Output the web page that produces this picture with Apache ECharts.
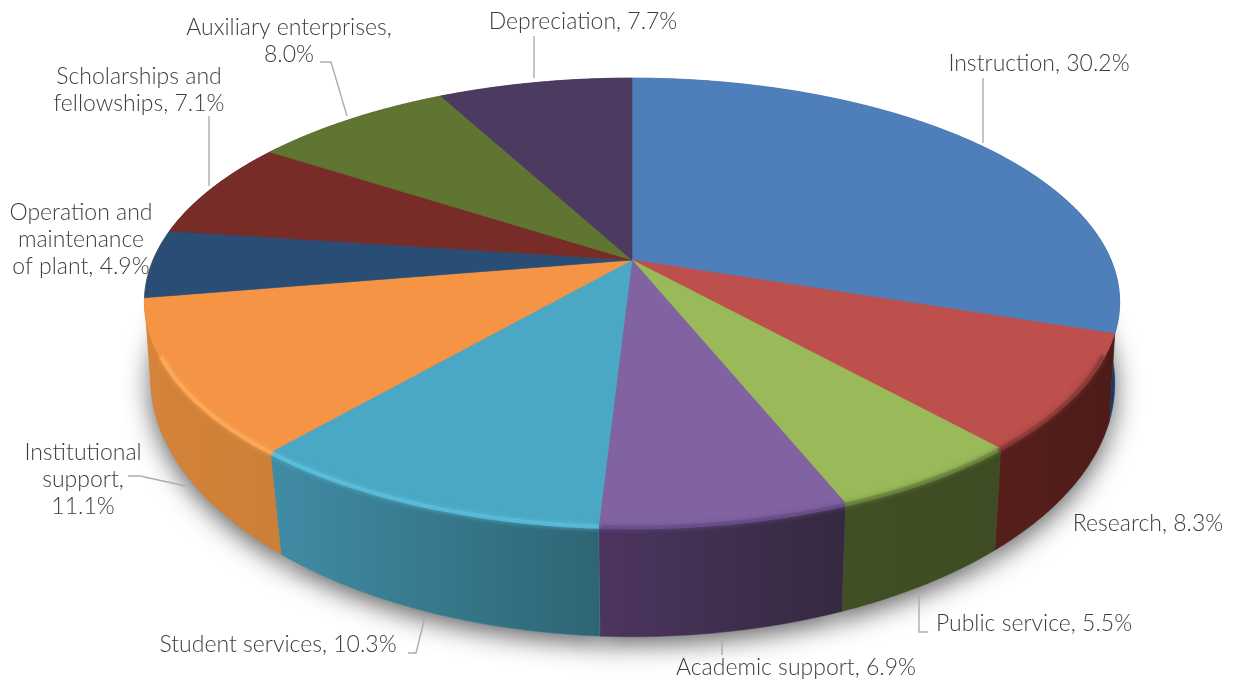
<!DOCTYPE html>
<html><head><meta charset="utf-8">
<style>html,body{margin:0;padding:0;background:#fff}#c{width:1234px;height:682px}</style>
<script src="https://cdn.jsdelivr.net/npm/echarts@6/dist/echarts.min.js"></script>
</head><body><div id="c"></div>
<script>
const categories = ['Instruction','Research','Public service','Academic support','Student services','Institutional support','Operation and maintenance of plant','Scholarships and fellowships','Auxiliary enterprises','Depreciation'];
const shares = [30.2,8.3,5.5,6.9,10.3,11.1,4.9,7.1,8.0,7.7];
const topColors = ['#4f7fbb','#bd4f4c','#9aba59','#8163a1','#4aa8c4','#f59445','#2a4d76','#772c28','#5f7531','#4c3a60'];
const wallLeft  = ['#2d5f98','#571f1c','#414f24','#4c3560','#408ca5','#d58439','#d58439','#4f1d1a','#3f4f23','#33273f'];
const wallRight = ['#143a66','#4c1c19','#3d4c22','#35293f','#2e6574','#cb7f37','#d58439','#4f1d1a','#3f4f23','#33273f'];
const rimColors = ['#3a689f','#8a3a37','#708a42','#6d5290','#5cc2e0','#fdab5e','#fdab5e','#772c28','#5f7531','#4c3a60'];
const labelLines = [
  ['Depreciation, 7.7%'],['Instruction, 30.2%'],['Auxiliary enterprises,','8.0%'],
  ['Scholarships and','fellowships, 7.1%'],['Operation and','maintenance','of plant, 4.9%'],
  ['Institutional','support,','11.1%'],['Student services, 10.3%'],['Academic support, 6.9%'],
  ['Public service, 5.5%'],['Research, 8.3%']
];
// label anchors: [centre x, first-line y]
const labelAt = [[583,22],[1039,64],[289,28],[139,77],[81,213],[83,453],[278,645],[796,668],[1034,624],[1148,524]];
const leaders = [
  [[534,36],[534,78]],[[983,78],[983,143]],[[320,62],[331,62],[347,116]],[[209,116],[209,186]],
  [[128,476],[140,476],[186,486]],[[408,653],[416,653],[425,617]],[[722,637],[722,655]],
  [[919,593],[919,632],[928,632]]
];
const FONT = 'Lato, "Open Sans", sans-serif', FS = 23, LH = 27;

// Perspective view of the disc
const CX=632, CY=260, A=479, B=216, K=0.1875;
const DROP_Y=79, SCALE_X=0.992, TAPER_L=0.028, TAPER_R=0.01, SCALE_Y=1.12;
function rimTop(t){const X=Math.sin(t),Y=-Math.cos(t),w=1-K*Y;return [CX+A*X/w,CY+B*Y/w];}
function rimBot(t){
  const p=rimTop(t),Y=Math.max(0,-Math.cos(t)),sx=SCALE_X-Y*(p[0]<CX?TAPER_L:TAPER_R);
  return [CX+(p[0]-CX)*sx,CY+DROP_Y+(p[1]-CY)*SCALE_Y];
}
const total = shares.reduce((a,b)=>a+b,0);
const starts=[];let acc=0;shares.forEach(v=>{starts.push(acc);acc+=v;});
function arc(i,fn,keep){
  const a0=starts[i]/total*2*Math.PI,a1=(starts[i]+shares[i])/total*2*Math.PI,n=Math.max(4,Math.ceil((a1-a0)/0.01)),o=[];
  for(let k=0;k<=n;k++){const t=a0+(a1-a0)*k/n;if(!keep||keep(t))o.push(fn(t));}
  return o;
}
const seriesData = shares.map((v,i)=>({name:categories[i],value:v}));
function poly(points,style){return {type:'polygon',shape:{points},style};}

const sh = {
  type:'custom',coordinateSystem:'none',silent:true,data:seriesData,z:1,
  renderItem(p){
    const pts=[[CX,CY+DROP_Y]].concat(arc(p.dataIndex,rimBot));
    return poly(pts,{fill:'#888',shadowBlur:26,shadowColor:'rgba(30,30,30,0.7)',shadowOffsetY:7});
  }
};
const walls = {
  type:'custom',coordinateSystem:'none',silent:true,data:seriesData,z:2,
  renderItem(p){
    const i=p.dataIndex,a=arc(i,rimTop),b=arc(i,rimBot).reverse(),pts=a.concat(b);
    return poly(pts,{
      fill:new echarts.graphic.LinearGradient(0,0,1,0,[{offset:0,color:wallLeft[i]},{offset:1,color:wallRight[i]}]),
      stroke:wallLeft[i],lineWidth:0.4});
  }
};
const tops = {
  type:'custom',coordinateSystem:'none',silent:true,data:seriesData,z:3,
  renderItem(p){
    const i=p.dataIndex,pts=[[CX,CY]].concat(arc(i,rimTop));
    return poly(pts,{fill:topColors[i],stroke:topColors[i],lineWidth:0.6});
  }
};
const rims = {
  type:'custom',coordinateSystem:'none',silent:true,data:seriesData,z:4,
  renderItem(p){
    const i=p.dataIndex;
    const pts=arc(i,t=>{const q=rimTop(t);return [CX+(q[0]-CX)*0.994,q[1]+1.5];},t=>Math.cos(t)<-0.4);
    if(pts.length<2)return null;
    return {type:'polyline',shape:{points:pts},style:{fill:null,stroke:rimColors[i],lineWidth:4,opacity:0.8,shadowBlur:5,shadowColor:rimColors[i]}};
  }
};

const graphics=[];
leaders.forEach(l=>graphics.push({type:'polyline',silent:true,z:10,shape:{points:l},style:{fill:null,stroke:'#adadad',lineWidth:1.4}}));
labelLines.forEach((lines,i)=>lines.forEach((s,k)=>graphics.push({type:'text',silent:true,z:11,x:labelAt[i][0],y:labelAt[i][1]+k*LH,
  style:{text:s,fill:'#3d3d3d',font:'300 '+FS+'px '+FONT,textAlign:'center',textVerticalAlign:'middle'}})));

const chart=echarts.init(document.getElementById('c'),null,{renderer:'canvas'});
chart.setOption({animation:false,backgroundColor:'#fff',series:[sh,walls,tops,rims],graphic:graphics});
</script></body></html>
